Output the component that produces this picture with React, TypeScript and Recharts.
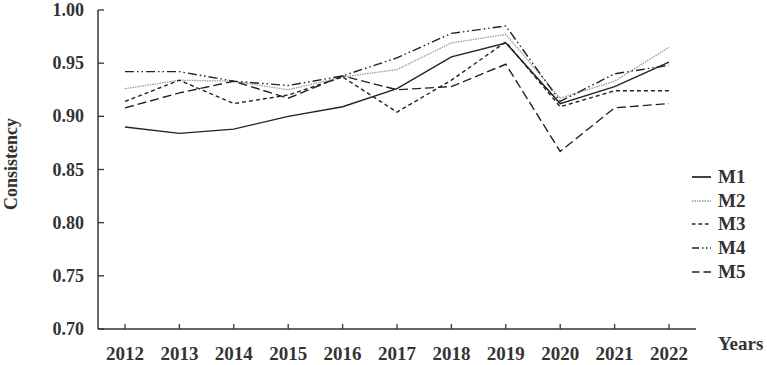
import React from 'react';
import { LineChart, Line, XAxis, YAxis } from 'recharts';

const years = ['2012', '2013', '2014', '2015', '2016', '2017', '2018', '2019', '2020', '2021', '2022'];
const m1 = [0.890, 0.884, 0.888, 0.900, 0.909, 0.926, 0.956, 0.969, 0.912, 0.928, 0.951];
const m2 = [0.926, 0.934, 0.933, 0.925, 0.937, 0.944, 0.969, 0.977, 0.917, 0.933, 0.965];
const m3 = [0.914, 0.934, 0.912, 0.920, 0.937, 0.904, 0.934, 0.970, 0.909, 0.924, 0.924];
const m4 = [0.942, 0.942, 0.933, 0.929, 0.938, 0.955, 0.978, 0.985, 0.914, 0.940, 0.948];
const m5 = [0.908, 0.922, 0.933, 0.917, 0.938, 0.925, 0.928, 0.949, 0.867, 0.908, 0.912];
const yTicks = [0.7, 0.75, 0.8, 0.85, 0.9, 0.95, 1.0];

const data = years.map((y, i) => ({ year: y, M1: m1[i], M2: m2[i], M3: m3[i], M4: m4[i], M5: m5[i] }));

const FONT = '"Liberation Serif", "Times New Roman", serif';
const AXIS = '#333';

const series = [
  { key: 'M1', color: '#222', width: 1.4, dash: undefined as string | undefined, legendDash: undefined as string | undefined },
  { key: 'M2', color: '#9a9a9a', width: 1.3, dash: '1.5 1', legendDash: '1.5 1' },
  { key: 'M3', color: '#222', width: 1.4, dash: '4 3', legendDash: '3.5 3' },
  { key: 'M4', color: '#222', width: 1.4, dash: '9 3 1.5 3 1.5 3', legendDash: '7 3 1.5 2.5 1.5 2.5' },
  { key: 'M5', color: '#222', width: 1.4, dash: '9 4', legendDash: '7.5 4' },
];

const XTick = (props: any) => {
  const { x, y, payload } = props;
  return (
    <g>
      <line x1={x} x2={x} y1={y} y2={y - 5} stroke={AXIS} strokeWidth={1.3} />
      <text x={x} y={y + 31} textAnchor="middle" fontFamily={FONT} fontWeight="bold" fontSize={19} fill="#333">
        {payload.value}
      </text>
    </g>
  );
};

const YTick = (props: any) => {
  const { x, y, payload } = props;
  return (
    <g>
      <line x1={x} x2={x + 6} y1={y} y2={y} stroke={AXIS} strokeWidth={1.3} />
      <text x={x - 14} y={y + 6} textAnchor="end" fontFamily={FONT} fontWeight="bold" fontSize={18} fill="#333">
        {Number(payload.value).toFixed(2)}
      </text>
    </g>
  );
};

const LegendBox = () => (
  <div
    style={{
      position: 'absolute',
      left: 691,
      top: 165,
      fontFamily: FONT,
      fontWeight: 'bold',
      fontSize: 19,
      color: '#333',
    }}
  >
    {series.map((s) => (
      <div key={s.key} style={{ display: 'flex', alignItems: 'center', height: 23.8 }}>
        <svg width={22} height={10} style={{ marginRight: 5 }}>
          <line x1={1} x2={20} y1={5} y2={5} stroke={s.color} strokeWidth={s.width + 0.3} strokeDasharray={s.legendDash} />
        </svg>
        <span>{s.key}</span>
      </div>
    ))}
  </div>
);

export default function App() {
  return (
    <div style={{ position: 'absolute', left: 0, top: 0, width: 767, height: 365, background: '#fff' }}>
      <LineChart width={767} height={365} data={data} margin={{ top: 10, right: 71, bottom: 0, left: 8 }}>
        <XAxis
          dataKey="year"
          tickLine={false}
          tickSize={0}
          tickMargin={0}
          tick={<XTick />}
          stroke={AXIS}
          strokeWidth={1.5}
          interval={0}
          height={36}
          padding={{ left: 27, right: 27 }}
        />
        <YAxis
          domain={[0.7, 1.0]}
          ticks={yTicks}
          tickLine={false}
          tickSize={0}
          tickMargin={0}
          tick={<YTick />}
          stroke={AXIS}
          strokeWidth={1.5}
          width={90}
          interval={0}
          allowDataOverflow
        />
        {series.map((s) => (
          <Line
            key={s.key}
            type="linear"
            dataKey={s.key}
            stroke={s.color}
            strokeWidth={s.width}
            strokeDasharray={s.dash}
            dot={false}
            activeDot={false}
            isAnimationActive={false}
          />
        ))}
      </LineChart>
      <LegendBox />
      <div
        style={{
          position: 'absolute',
          left: 11,
          top: 164,
          transform: 'translate(-50%, -50%) rotate(-90deg)',
          fontFamily: FONT,
          fontWeight: 'bold',
          fontSize: 18,
          color: '#333',
          whiteSpace: 'nowrap',
        }}
      >
        Consistency
      </div>
      <div
        style={{
          position: 'absolute',
          left: 718,
          top: 333,
          fontFamily: FONT,
          fontWeight: 'bold',
          fontSize: 19,
          color: '#333',
          whiteSpace: 'nowrap',
        }}
      >
        Years
      </div>
    </div>
  );
}
